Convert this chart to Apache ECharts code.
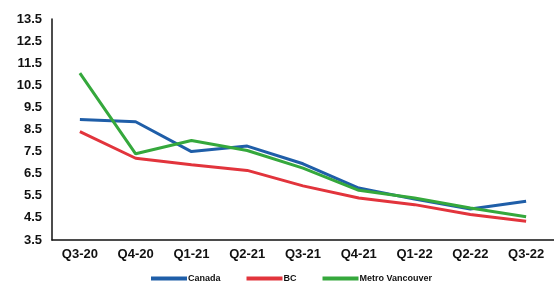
<!DOCTYPE html>
<html>
<head>
<meta charset="utf-8">
<script src="https://cdn.jsdelivr.net/npm/echarts@6/dist/echarts.min.js"></script>
<style>
  html, body { margin: 0; padding: 0; background: #fff; }
  #chart { width: 554px; height: 291px; }
</style>
</head>
<body>
<div id="chart"></div>
<script>
// quarters on the x axis
const quarters = ['Q3-20', 'Q4-20', 'Q1-21', 'Q2-21', 'Q3-21', 'Q4-21', 'Q1-22', 'Q2-22', 'Q3-22'];

// series values
const canada = [8.95, 8.85, 7.5, 7.75, 6.95, 5.85, 5.35, 4.9, 5.25];
const bc = [8.4, 7.2, 6.9, 6.65, 5.95, 5.4, 5.1, 4.65, 4.35];
const metroVan = [11.05, 7.4, 8.0, 7.55, 6.75, 5.75, 5.4, 4.95, 4.55];

const seriesNames = ['Canada', 'BC', 'Metro Vancouver'];
const colors = ['#1f5ea8', '#e2343c', '#35a83c'];

const chart = echarts.init(document.getElementById('chart'));

const mkSeries = (name, values, i) => ({
  name: name,
  type: 'line',
  data: values,
  symbol: 'none',
  lineStyle: { width: 3, color: colors[i] },
  itemStyle: { color: colors[i] }
});

chart.setOption({
  animation: false,
  grid: { left: 52, right: -6, top: 19, bottom: 51 },
  legend: {
    bottom: 3,
    left: 146,
    itemWidth: 36,
    itemHeight: 4,
    itemGap: 26,
    icon: 'rect',
    textStyle: { fontSize: 9, fontWeight: 'bold', color: '#111', fontFamily: 'Liberation Sans', padding: [0, 0, 0, -4] },
    data: seriesNames
  },
  xAxis: {
    type: 'category',
    data: quarters,
    boundaryGap: true,
    axisLine: { lineStyle: { color: '#111', width: 1.5 } },
    axisTick: { show: false },
    axisLabel: {
      color: '#111',
      fontSize: 13,
      fontWeight: 'bold',
      fontFamily: 'Liberation Sans',
      margin: 8
    }
  },
  yAxis: {
    type: 'value',
    min: 3.5,
    max: 13.5,
    interval: 1,
    axisLine: { show: true, lineStyle: { color: '#111', width: 1.5 } },
    axisTick: { show: false },
    splitLine: { show: false },
    axisLabel: {
      color: '#111',
      fontSize: 13,
      fontWeight: 'bold',
      fontFamily: 'Liberation Sans',
      margin: 10,
      formatter: v => v.toFixed(1)
    }
  },
  series: [
    mkSeries(seriesNames[0], canada, 0),
    mkSeries(seriesNames[1], bc, 1),
    mkSeries(seriesNames[2], metroVan, 2)
  ]
});
</script>
</body>
</html>
